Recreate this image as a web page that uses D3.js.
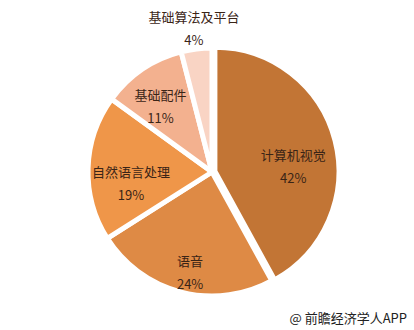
<!DOCTYPE html>
<html>
<head>
<meta charset="utf-8">
<script src="https://cdn.jsdelivr.net/npm/d3@7"></script>
<style>
  body { margin: 0; background: #fff; }
  svg { display: block; font-family: "Noto Sans CJK SC", "Noto Sans", sans-serif; }
</style>
</head>
<body>
<div id="chart"></div>
<script>
var categories = ['计算机视觉', '语音', '自然语言处理', '基础配件', '基础算法及平台'];
var shares = [42, 24, 19, 11, 4];
var colours = ['#c27535', '#de8a45', '#ef9649', '#f3b18f', '#f9d4c4'];

var width = 414,
    height = 330,
    cx = 212,
    cy = 172,
    radius = 124;

var svg = d3.select('#chart').append('svg')
    .attr('width', width)
    .attr('height', height);

var chart = svg.append('g')
    .attr('transform', 'translate(' + cx + ',' + cy + ')');

var pie = d3.pie().sort(null).value(function(d) { return d; });
var arcs = pie(shares);

var arc = d3.arc().innerRadius(0).outerRadius(radius);
var labelArc = d3.arc().innerRadius(88).outerRadius(88);
var outerArc = d3.arc().innerRadius(144).outerRadius(144);

// first slice is pulled out a little, like the original
function offset(d, i) {
    if (i !== 0) return 'translate(0,0)';
    var a = (d.startAngle + d.endAngle) / 2;
    return 'translate(' + (3 * Math.sin(a)) + ',' + (-3 * Math.cos(a)) + ')';
}

chart.selectAll('path.slice')
    .data(arcs)
    .enter()
    .append('path')
    .attr('class', 'slice')
    .attr('d', arc)
    .attr('transform', offset)
    .attr('fill', function(d, i) { return colours[i]; })
    .attr('stroke', '#fff')
    .attr('stroke-width', 5)
    .attr('stroke-linejoin', 'round');

// small nudges where the original label sits off the centroid
var nudge = [[-4, 17], [0, 16], [7, 15], [-2, 8], [0, 0]];

var labels = chart.selectAll('g.label')
    .data(arcs)
    .enter()
    .append('g')
    .attr('class', 'label')
    .attr('transform', function(d, i) {
        var p = d.data / 100 < 0.06 ? outerArc.centroid(d) : labelArc.centroid(d);
        return 'translate(' + (p[0] + nudge[i][0]) + ',' + (p[1] + nudge[i][1]) + ')';
    });

labels.append('text')
    .attr('text-anchor', 'middle')
    .attr('y', -7)
    .style('font-size', '13px')
    .attr('fill', '#3a2416')
    .text(function(d, i) { return categories[i]; });

labels.append('text')
    .attr('text-anchor', 'middle')
    .attr('y', 16)
    .style('font-size', '13px')
    .attr('fill', '#3a2416')
    .text(function(d) { return d.data + '%'; });

svg.append('text')
    .attr('x', 407)
    .attr('y', 323)
    .attr('text-anchor', 'end')
    .style('font-size', '13px')
    .attr('fill', '#222')
    .text('@ 前瞻经济学人APP');
</script>
</body>
</html>
